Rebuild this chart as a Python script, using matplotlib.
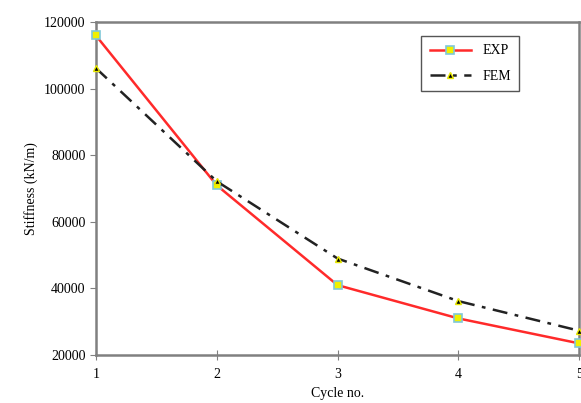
import matplotlib
matplotlib.use('Agg')
import matplotlib.pyplot as plt

cycles = [1, 2, 3, 4, 5]
exp_vals = [116000, 71000, 41000, 31000, 23500]
fem_vals = [106200, 72200, 49000, 36200, 27300]
yticks = [20000, 40000, 60000, 80000, 100000, 120000]

plt.rcParams['font.family'] = ['Liberation Serif', 'DejaVu Serif']

fig = plt.figure(figsize=(5.81, 4.03), dpi=100)
ax = fig.add_axes([0.165, 0.119, 0.832, 0.826])

ax.plot(cycles, exp_vals, color='#ff2a2a', lw=1.8, marker='s', ms=6,
        mfc='#f0f000', mec='#7fc8d8', mew=1.2, label='EXP', clip_on=False, zorder=3)
ax.plot(cycles, fem_vals, color='#222222', lw=1.8, ls=(0, (6, 3, 1.5, 3)),
        marker='^', ms=4.5, mfc='black', mec='#e8e800', mew=1.0, label='FEM',
        clip_on=False, zorder=3)

ax.set_xlim(1, 5)
ax.set_ylim(20000, 120000)
ax.set_xticks(cycles)
ax.set_yticks(yticks)
ax.set_xlabel('Cycle no.', fontsize=10, labelpad=4)
ax.set_ylabel('Stiffness (kN/m)', fontsize=10)
ax.tick_params(axis='y', direction='out', length=4, color='#808080', labelsize=10)
ax.tick_params(axis='x', direction='inout', length=7, color='#808080', labelsize=10, pad=6)
for s in ax.spines.values():
    s.set_color('#808080')
    s.set_linewidth(1.8)

leg = ax.legend(loc='upper right', bbox_to_anchor=(0.876, 0.958), fontsize=10,
                fancybox=False, framealpha=1, edgecolor='#555555',
                handlelength=3.0, borderpad=0.6, labelspacing=0.9,
                borderaxespad=0)
leg.get_frame().set_linewidth(1.0)

fig.savefig('out.png', dpi=100)
